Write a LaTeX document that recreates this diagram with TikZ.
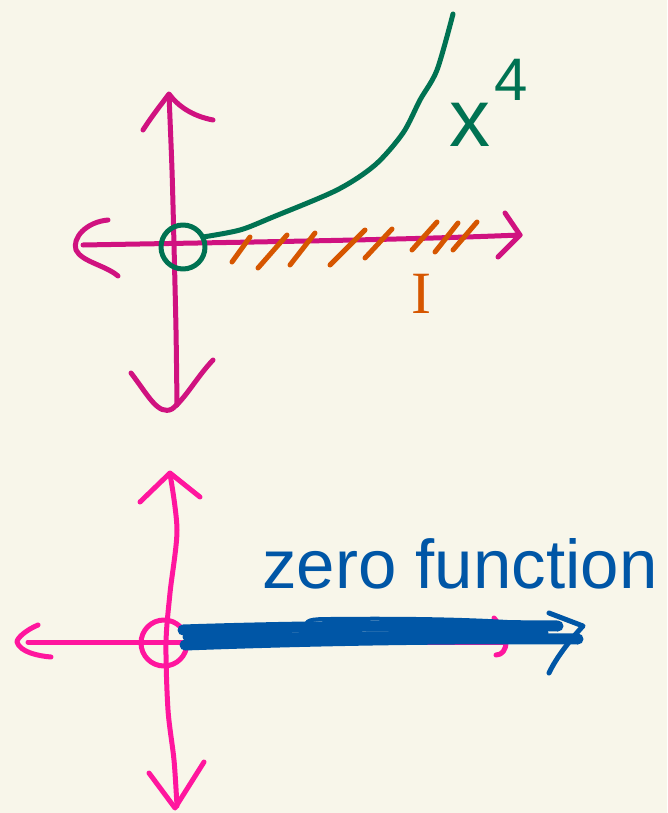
\documentclass[tikz,border=0pt]{standalone}
\usepackage{fontspec}
\setmainfont{Liberation Sans}
\newfontfamily\serifhand{Liberation Serif}
\usetikzlibrary{positioning}
\definecolor{paper}{RGB}{248,246,234}
\definecolor{axismag}{RGB}{208,18,128}
\definecolor{axispink}{RGB}{255,22,158}
\definecolor{curvegreen}{RGB}{0,114,82}
\definecolor{hatchorange}{RGB}{214,86,0}
\definecolor{inkblue}{RGB}{0,86,166}

\begin{document}
\begin{tikzpicture}[
  x=1pt, y=-1pt,
  pen/.style={line width=5pt, line cap=round, line join=round},
  topaxis/.style={pen, axismag},
  botaxis/.style={pen, axispink},
  greenpen/.style={pen, curvegreen},
  hatch/.style={pen, hatchorange},
  bluepen/.style={line width=11pt, line cap=round, line join=round, inkblue},
  label/.style={inner sep=0pt, anchor=base},
]

% paper
\fill[paper] (0,0) rectangle (667,813);
\useasboundingbox (0,0) rectangle (667,813);

% Top graph: axes
\draw[topaxis] plot[smooth] coordinates {(169,95) (172,170) (174,245) (176,330) (177,405)};
\draw[topaxis] (143,130) .. controls (152,116) and (160,106) .. (169,94)
               .. controls (178,106) and (192,116) .. (213,120);
\draw[topaxis] (131,373) .. controls (148,395) and (158,416) .. (172,409)
               .. controls (186,398) and (196,378) .. (213,360);
\draw[topaxis] (83,245) .. controls (250,242) and (400,240) .. (520,235);
\draw[topaxis] (108,220) .. controls (86,222) and (72,238) .. (76,250)
               .. controls (82,262) and (105,265) .. (118,276);
\draw[topaxis] (505,213) -- (520,235) -- (498,257);

% x^4 curve and open point
\draw[greenpen] (183,247) circle (22);
\draw[greenpen] plot[smooth] coordinates {(203,237) (240,230) (273,217) (337,190) (375,165) (403,133) (420,100) (437,70) (453,14)};
\node[label, curvegreen, font=\fontsize{82}{82}\selectfont] (xlab) at (470,147) {x};
\node[label, curvegreen, font=\fontsize{60}{60}\selectfont] (pow) at (511,101) {4};

% interval I
\foreach \a/\b/\c/\d in {232/262/250/237, 258/268/287/235, 290/265/315/233,
                         330/265/365/230, 365/258/392/229, 412/250/437/222,
                         435/252/458/223, 453/250/477/222}
  \draw[hatch] (\a,\b) -- (\c,\d);
\node[label, hatchorange, font=\serifhand\fontsize{60}{60}\selectfont] (ilab) at (421,313) {I};

% Bottom graph: axes
\draw[botaxis] plot[smooth] coordinates {(170,474) (177,530) (170,593) (166,643) (168,710) (174,760) (177,806)};
\draw[botaxis] (140,502) -- (170,473) -- (200,497);
\draw[botaxis] (149,773) -- (175,808) -- (204,762);
\draw[botaxis] (28,642) -- (506,642);
\draw[botaxis] (38,625) .. controls (26,630) and (17,638) .. (17,642)
               .. controls (20,652) and (38,656) .. (51,657);
\draw[botaxis] (494,618) .. controls (500,625) and (506,635) .. (506,642)
               .. controls (506,650) and (502,655) .. (496,655);
\draw[botaxis] (164,643) circle (23);

% zero function
\draw[bluepen] (183,630) .. controls (300,626) and (450,625) .. (558,626);
\draw[bluepen] (185,645) .. controls (320,640) and (460,638) .. (578,639);
\draw[bluepen, line width=7pt] (186,637) -- (545,633);
\draw[inkblue, pen, line width=4pt] (306,628) .. controls (305,620) and (310,619) .. (330,619)
               .. controls (420,618) and (480,620) .. (523,623);
\draw[inkblue, pen] (549,613) -- (583,626) .. controls (570,640) and (556,658) .. (549,673);
\node[label, inkblue, font=\fontsize{69}{69}\selectfont] (zlab) at (460,588) {zero function};
\end{tikzpicture}
\end{document}
